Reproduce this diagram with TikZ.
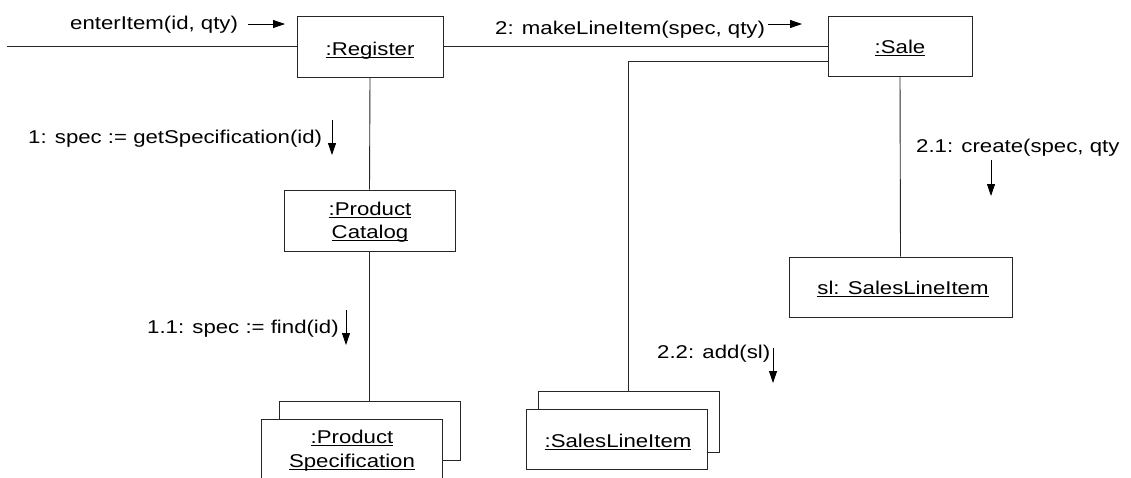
\documentclass[tikz,border=0pt]{standalone}
\usepackage{fontspec}
\setmainfont{Liberation Sans}[FakeStretch=1.2]
\usetikzlibrary{arrows.meta}
\newcommand{\ulbox}[1]{\setbox0\hbox{#1}\rlap{\rule[-2.4pt]{\wd0}{0.8pt}}\box0}
\begin{document}
\begin{tikzpicture}[x=1pt,y=-1pt,
  font=\fontsize{18.5}{23.5}\selectfont,
  ln/.style={line width=0.9pt, draw=black!85},
  obj/.style={draw=black!85, line width=0.9pt, fill=white, inner sep=0pt},
  txt/.style={inner sep=0pt, anchor=base},
  lbl/.style={inner sep=0pt, anchor=base west},
  msg/.style={line width=0.8pt, draw=black, -{Triangle[length=12pt,width=8pt]}}]
\useasboundingbox (0,0) rectangle (1131,477);
\fill[white] (0,0) rectangle (1131,477);
\clip (0,0) rectangle (1131,477);

% objects
\node[obj, minimum width=146pt, minimum height=61pt] (reg) at (370,46.75) {};
\node[txt] (regt) at (370,55) {\ulbox{:Register}};
\node[obj, minimum width=144pt, minimum height=60pt] (sale) at (900,46.75) {};
\node[txt] (salet) at (900,53) {\ulbox{:Sale}};
\node[obj, minimum width=223pt, minimum height=60pt] (sl) at (900.5,287) {};
\node[txt] (slt) at (903,294) {\ulbox{sl: SalesLineItem}};
\node[obj, minimum width=171pt, minimum height=61pt] (cat) at (369.5,220.5) {};
\node[txt] (catt1) at (370,215) {\ulbox{:Product}};
\node[txt] (catt2) at (370,238) {\ulbox{Catalog}};
\node[obj, minimum width=181pt, minimum height=59pt] (psb) at (369.5,430.5) {};
\node[obj, minimum width=181pt, minimum height=71pt] (psf) at (351.5,454.5) {};
\node[txt] (pst1) at (352,443) {\ulbox{:Product}};
\node[txt] (pst2) at (352,467) {\ulbox{Specification}};
\node[obj, minimum width=181pt, minimum height=61pt] (slib) at (628.5,421.5) {};
\node[obj, minimum width=181pt, minimum height=60pt] (slif) at (616.5,439) {};
\node[txt] (slit) at (618,447) {\ulbox{:SalesLineItem}};

% links
\coordinate (in) at (7,46.75);
\draw[ln] (in) -- (reg.west);
\draw[ln] (reg.east) -- (sale.west);
\draw[ln] ([yshift=-15pt]sale.west) -| (slib.north);
\draw[ln] (sale.south) -- (sl.north);
\draw[ln] (reg.south) -- (cat.north);
\draw[ln] (cat.south) -- (psb.north);

% messages
\node[lbl] (m0) at (70,29) {enterItem(id, qty)};
\coordinate (m0a) at (248,24); \coordinate (m0b) at (285,24);
\draw[msg] (m0a) -- (m0b);
\node[lbl] (m2) at (495,34) {2: makeLineItem(spec, qty)};
\coordinate (m2a) at (768,24); \coordinate (m2b) at (802,24);
\draw[msg] (m2a) -- (m2b);
\node[lbl] (m1) at (28,143) {1: spec := getSpecification(id)};
\coordinate (m1a) at (332,120); \coordinate (m1b) at (332,155);
\draw[msg] (m1a) -- (m1b);
\node[lbl] (m21) at (916,152) {2.1: create(spec, qty};
\coordinate (m21a) at (991,160); \coordinate (m21b) at (991,196);
\draw[msg] (m21a) -- (m21b);
\node[lbl] (m11) at (147,333) {1.1: spec := find(id)};
\coordinate (m11a) at (346,310); \coordinate (m11b) at (346,345);
\draw[msg] (m11a) -- (m11b);
\node[lbl] (m22) at (657,358) {2.2: add(sl)};
\coordinate (m22a) at (773,348); \coordinate (m22b) at (773,383);
\draw[msg] (m22a) -- (m22b);
\end{tikzpicture}
\end{document}
